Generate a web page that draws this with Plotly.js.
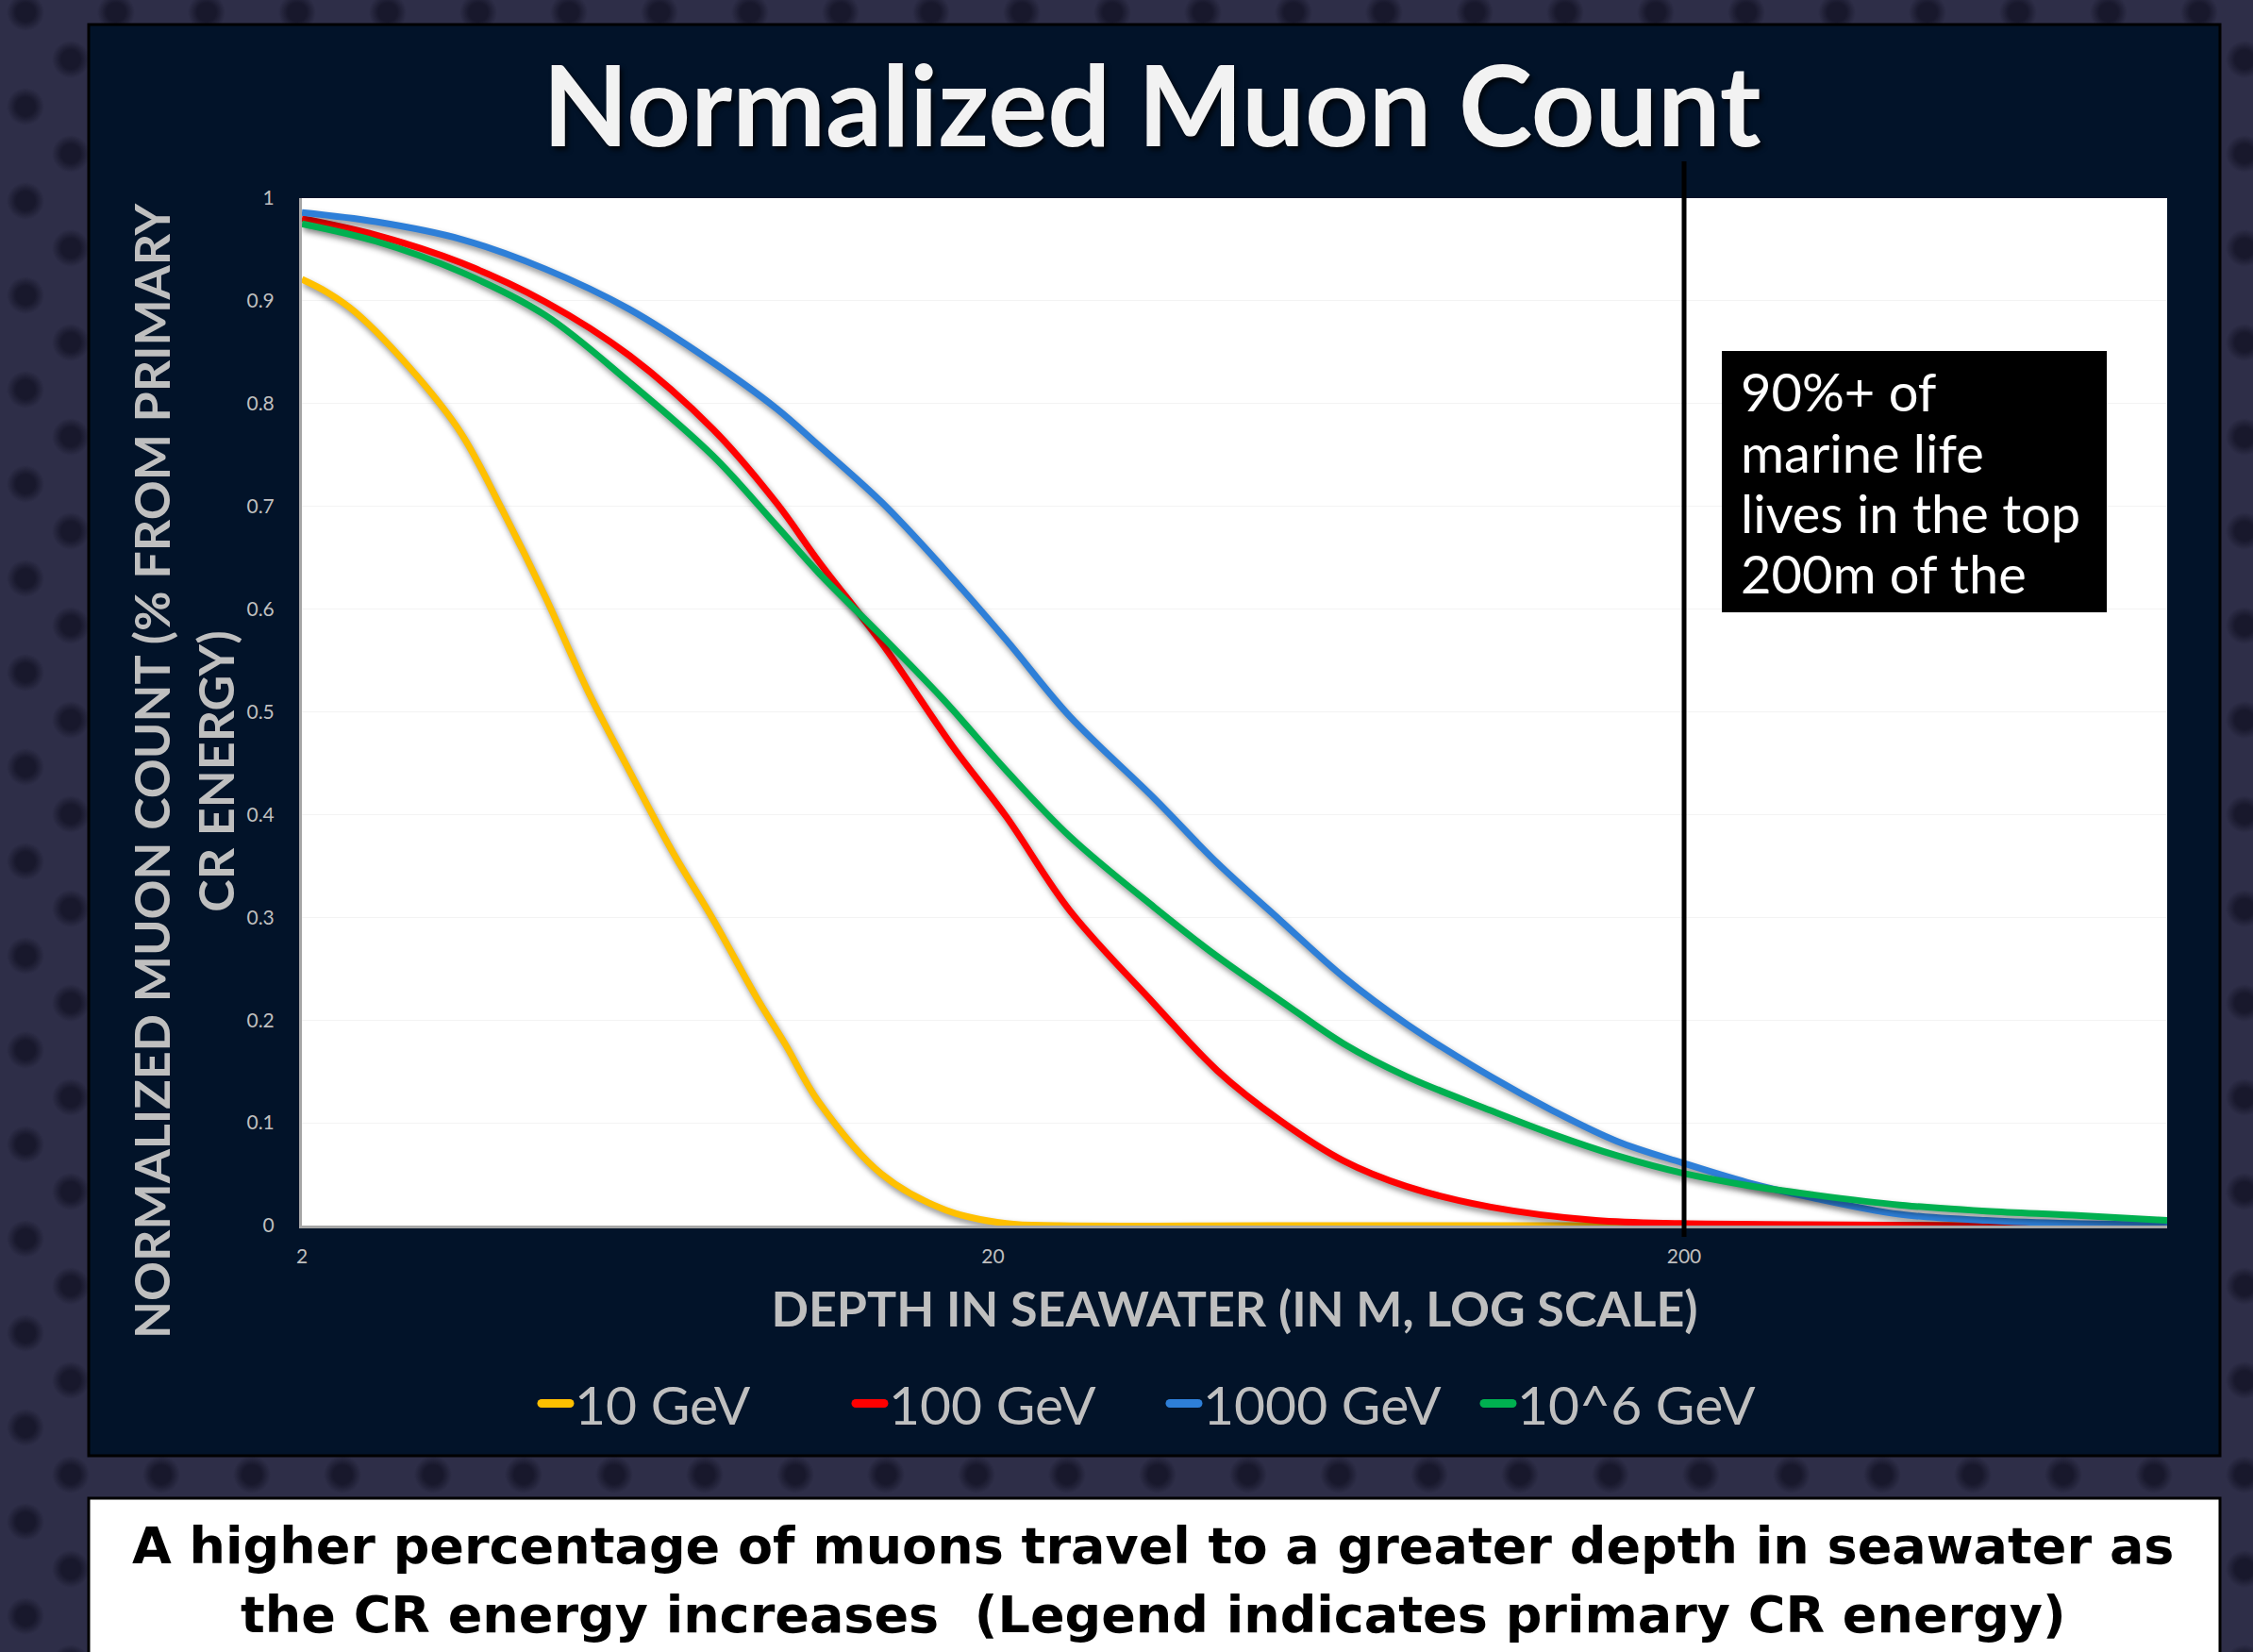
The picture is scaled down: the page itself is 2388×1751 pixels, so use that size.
<!DOCTYPE html>
<html>
<head>
<meta charset="utf-8">
<script src="https://cdn.plot.ly/plotly-3.0.1.min.js"></script>
<style>
  html, body { margin: 0; padding: 0; }
  body {
    width: 2388px; height: 1751px; overflow: hidden;
    background-color: #2e2e48;
    background-image:
      radial-gradient(circle at center, #18182c 0px, #18182c 10px, rgba(24,24,44,0) 20px),
      radial-gradient(circle at center, #18182c 0px, #18182c 10px, rgba(24,24,44,0) 20px);
    background-size: 96px 100px, 96px 100px;
    background-position: -21px -37px, 27px 13px;
  }
  #chart { width: 2388px; height: 1751px; }
  .scatterlayer .js-line { filter: drop-shadow(2px 4px 3px rgba(0,0,0,0.45)); }
  .legend .legendlines path { stroke-width: 9px !important; stroke-linecap: round; }
</style>
</head>
<body>
<div id="chart"></div>
<script>
// ---- data ----
const seriesNames = ["10 GeV", "100 GeV", "1000 GeV", "10^6 GeV"];
const seriesColors = ["#FFC000", "#FF0000", "#2E7FD8", "#00B050"];

const depth10 = [2, 2.18, 2.39, 2.95, 3.40, 3.91, 4.50, 5.18, 5.95, 6.86, 7.87, 9.08, 10.0, 11.2, 13.8, 17.1, 20.9, 25, 50, 100, 200, 500, 1000];
const muon10  = [0.921, 0.908, 0.889, 0.825, 0.771, 0.695, 0.612, 0.521, 0.443, 0.365, 0.298, 0.223, 0.177, 0.120, 0.050, 0.015, 0.002, 0, 0, 0, 0, 0, 0];

const depth100 = [2, 2.56, 3.40, 4.50, 5.95, 7.87, 9.73, 11.2, 13.8, 17.5, 20.9, 25.8, 34.2, 42.2, 52.1, 64.3, 79.4, 105, 149, 199, 300, 500, 1000];
const muon100  = [0.980, 0.964, 0.937, 0.899, 0.847, 0.775, 0.703, 0.646, 0.567, 0.466, 0.398, 0.307, 0.216, 0.151, 0.102, 0.063, 0.038, 0.018, 0.005, 0.002, 0.001, 0, 0];

const depth1000 = [2, 2.56, 3.40, 4.50, 5.95, 7.87, 9.73, 11.2, 13.8, 16.95, 20.9, 25.8, 34.2, 42.2, 52.1, 64.3, 79.4, 105, 129, 160, 199, 247, 307, 410, 547, 730, 1000];
const muon1000  = [0.986, 0.977, 0.960, 0.931, 0.892, 0.840, 0.795, 0.759, 0.704, 0.640, 0.570, 0.496, 0.416, 0.353, 0.297, 0.242, 0.196, 0.145, 0.112, 0.082, 0.061, 0.042, 0.027, 0.011, 0.005, 0.002, 0.001];

const depth1e6 = [2, 2.56, 3.40, 4.50, 5.95, 7.87, 9.73, 11.2, 13.8, 16.95, 20.9, 25.8, 34.2, 42.2, 52.1, 64.3, 79.4, 105, 129, 160, 199, 247, 307, 410, 547, 730, 1000];
const muon1e6  = [0.975, 0.958, 0.928, 0.886, 0.821, 0.749, 0.681, 0.635, 0.574, 0.512, 0.443, 0.379, 0.310, 0.262, 0.219, 0.177, 0.145, 0.112, 0.089, 0.068, 0.051, 0.039, 0.030, 0.020, 0.014, 0.010, 0.005];

const xTickVals = [2, 20, 200];
const xTickText = ["2", "20", "200"];
const xRangeDepth = [2, 1000];
const markerDepth = 200;

const titleText = "Normalized Muon Count";
const xTitleText = "DEPTH IN SEAWATER (IN M, LOG SCALE)";
const yTitleText = "NORMALIZED MUON COUNT (% FROM PRIMARY<br>CR ENERGY)";
const noteLines = ["90%+ of", "marine life", "lives in the top", "200m of the"];
const captionLines = [
  "A higher percentage of muons travel to a greater depth in seawater as",
  "the CR energy increases  (Legend indicates primary CR energy)"
];

// ---- layout geometry (pixels) ----
const W = 2388, H = 1751;
const L = 320, R = 2297, T = 210, B = 1299;
const px = x => (x - L) / (R - L);
const py = y => (B - y) / (B - T);

const xs = [depth10, depth100, depth1000, depth1e6];
const ys = [muon10, muon100, muon1000, muon1e6];

const traces = seriesNames.map((n, i) => ({
  type: "scatter", mode: "lines", name: n,
  x: xs[i], y: ys[i],
  line: { color: seriesColors[i], width: 7, shape: "spline", smoothing: 1.0 },
  hoverinfo: "skip"
}));

const FONT = "Lato, 'Open Sans', sans-serif";
const WIDEFONT = "'DejaVu Sans', Lato, sans-serif";
const GRAY = "#bfbfbf";

const noteY = [414, 479, 543, 607];
const captionY = [1638, 1711];

const annotations = [
  { xref: "paper", yref: "paper", x: px(194), y: py(817),
    text: "<b>" + yTitleText + "</b>", textangle: -90, showarrow: false,
    xanchor: "center", yanchor: "middle",
    font: { size: 52, color: GRAY, family: FONT } }
];
noteLines.forEach((t, i) => annotations.push({
  xref: "paper", yref: "paper", x: px(1843), y: py(noteY[i]),
  text: t, showarrow: false, xanchor: "left", yanchor: "middle",
  font: { size: 56, color: "#ffffff", family: FONT }
}));
captionLines.forEach((t, i) => annotations.push({
  xref: "paper", yref: "paper", x: px(1222), y: py(captionY[i]),
  text: "<b>" + t + "</b>", showarrow: false, xanchor: "center", yanchor: "middle",
  font: { size: 54, color: "#000000", family: WIDEFONT }
}));

const layout = {
  width: W, height: H,
  paper_bgcolor: "rgba(0,0,0,0)",
  plot_bgcolor: "rgba(0,0,0,0)",
  font: { family: FONT, color: GRAY },
  margin: { l: L, r: W - R, t: T, b: H - B, pad: 0 },
  showlegend: true,
  title: {
    text: "<b>" + titleText + "</b>",
    font: { family: FONT, size: 118, color: "#f2f2f2", shadow: "3px 4px 5px rgba(0,0,0,0.7)" },
    xref: "container", yref: "container",
    x: 1221 / W, xanchor: "center",
    y: 1 - 114 / H, yanchor: "middle"
  },
  xaxis: {
    type: "log",
    range: [Math.log10(xRangeDepth[0]), Math.log10(xRangeDepth[1])],
    tickmode: "array", tickvals: xTickVals, ticktext: xTickText,
    tickfont: { size: 21, color: GRAY },
    ticks: "", ticklabelstandoff: 12,
    showgrid: false, zeroline: false,
    showline: true, linecolor: "#a6a6a6", linewidth: 3,
    title: { text: "<b>" + xTitleText + "</b>", font: { size: 52, color: GRAY }, standoff: 28 },
    automargin: false, fixedrange: true
  },
  yaxis: {
    range: [0, 1], dtick: 0.1, tick0: 0,
    tickfont: { size: 21, color: GRAY },
    ticks: "", ticklabelstandoff: 22,
    showgrid: true, gridcolor: "#f3f3f3", gridwidth: 1,
    zeroline: false,
    showline: true, linecolor: "#a6a6a6", linewidth: 3,
    automargin: false, fixedrange: true
  },
  legend: {
    orientation: "h",
    xref: "container", yref: "container",
    x: 1235 / W, xanchor: "center",
    y: 1 - 1488 / H, yanchor: "middle",
    bgcolor: "rgba(0,0,0,0)",
    font: { size: 57, color: GRAY, family: FONT },
    itemwidth: 30,
    entrywidth: 288, entrywidthmode: "pixels"
  },
  shapes: [
    { type: "rect", xref: "paper", yref: "paper", layer: "below",
      x0: px(94), x1: px(2353), y0: py(1543), y1: py(26),
      fillcolor: "#021329", line: { color: "#000000", width: 3 } },
    { type: "rect", xref: "paper", yref: "paper", layer: "below",
      x0: px(94), x1: px(2353), y0: py(1770), y1: py(1588),
      fillcolor: "#ffffff", line: { color: "#000000", width: 3 } },
    { type: "rect", xref: "paper", yref: "paper", layer: "below",
      x0: 0, x1: 1, y0: 0, y1: 1,
      fillcolor: "#ffffff", line: { width: 0 } },
    { type: "rect", xref: "paper", yref: "paper", layer: "above",
      x0: px(1825), x1: px(2233), y0: py(649), y1: py(372),
      fillcolor: "#000000", line: { width: 0 } },
    { type: "line", xref: "x", yref: "paper", layer: "above",
      x0: markerDepth, x1: markerDepth,
      y0: py(1311), y1: py(171),
      line: { color: "#000000", width: 5 } }
  ],
  annotations: annotations
};

Plotly.newPlot("chart", traces, layout, { displayModeBar: false, staticPlot: true });
</script>
</body>
</html>
